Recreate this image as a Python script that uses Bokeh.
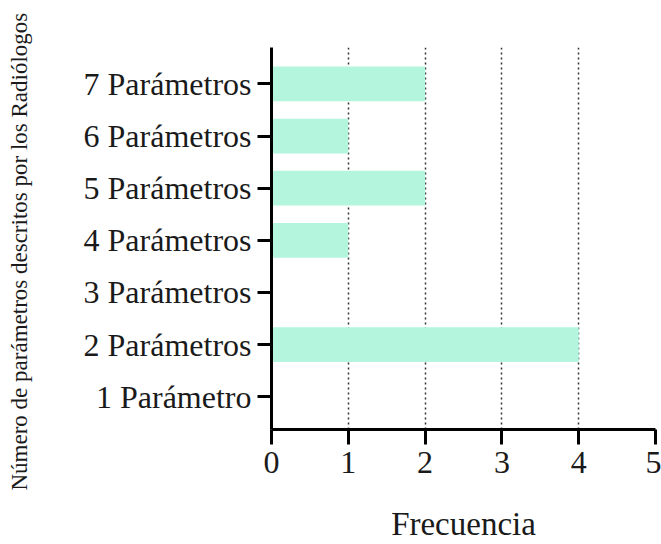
from bokeh.plotting import figure
from bokeh.layouts import row
from bokeh.models import Range1d, FixedTicker, Title
from bokeh.embed import file_html
from bokeh.resources import INLINE

categories = ["1 Parámetro", "2 Parámetros", "3 Parámetros", "4 Parámetros",
              "5 Parámetros", "6 Parámetros", "7 Parámetros"]
frecuencia = [0, 4, 0, 1, 2, 1, 2]
x_ticks = [0, 1, 2, 3, 4, 5]
y_title = "Número de parámetros descritos por los Radiólogos"

positions = list(range(1, len(categories) + 1))

FONT = "Liberation Serif"
H = 544
TITLE_W = 42

# narrow strip holding the rotated y-axis title in its left panel
t = figure(width=TITLE_W, height=H, output_backend="svg", toolbar_location=None,
           x_axis_location=None, y_axis_location=None,
           min_border_left=0, min_border_right=0, min_border_top=0,
           min_border_bottom=0)
t.grid.visible = False
t.outline_line_color = None
t.add_layout(Title(text=y_title, align="left", offset=-61, standoff=8,
                   text_font=FONT, text_font_size="23px",
                   text_font_style="normal", text_color="#1a1a1a"), "left")

p = figure(width=661 - TITLE_W, height=H, output_backend="svg",
           toolbar_location=None,
           x_range=Range1d(0, 5), y_range=Range1d(0.37, 7.7),
           min_border_left=271 - TITLE_W, min_border_right=6,
           min_border_top=47, min_border_bottom=112)
p.outline_line_color = None

p.hbar(y=positions, right=frecuencia, left=0, height=0.667,
       fill_color="#b4f5de", line_color=None)

p.xaxis.ticker = FixedTicker(ticks=x_ticks)
p.yaxis.ticker = FixedTicker(ticks=positions)
p.yaxis.major_label_overrides = {pos: c for pos, c in zip(positions, categories)}

for ax in (p.xaxis[0], p.yaxis[0]):
    ax.axis_line_width = 3
    ax.axis_line_color = "black"
    ax.major_tick_line_width = 3
    ax.major_tick_line_color = "black"
    ax.major_tick_in = 0
    ax.minor_tick_line_color = None
    ax.major_label_text_font = FONT
    ax.major_label_text_font_size = "32px"
    ax.major_label_text_color = "#1a1a1a"
    ax.axis_label_text_font = FONT
    ax.axis_label_text_font_style = "normal"
    ax.axis_label_text_color = "#1a1a1a"

p.xaxis.major_tick_out = 15
p.yaxis.major_tick_out = 14
p.xaxis.major_label_standoff = 7
p.yaxis.major_label_standoff = 6

p.xaxis.axis_label = "Frecuencia"
p.xaxis.axis_label_text_font_size = "33px"
p.xaxis.axis_label_standoff = 30

p.ygrid.grid_line_color = None
p.xgrid.grid_line_color = "#333333"
p.xgrid.grid_line_width = 1.5
p.xgrid.grid_line_dash = "2 3"

layout = row(t, p, spacing=0)
open("out.html", "w").write(file_html(layout, INLINE))
